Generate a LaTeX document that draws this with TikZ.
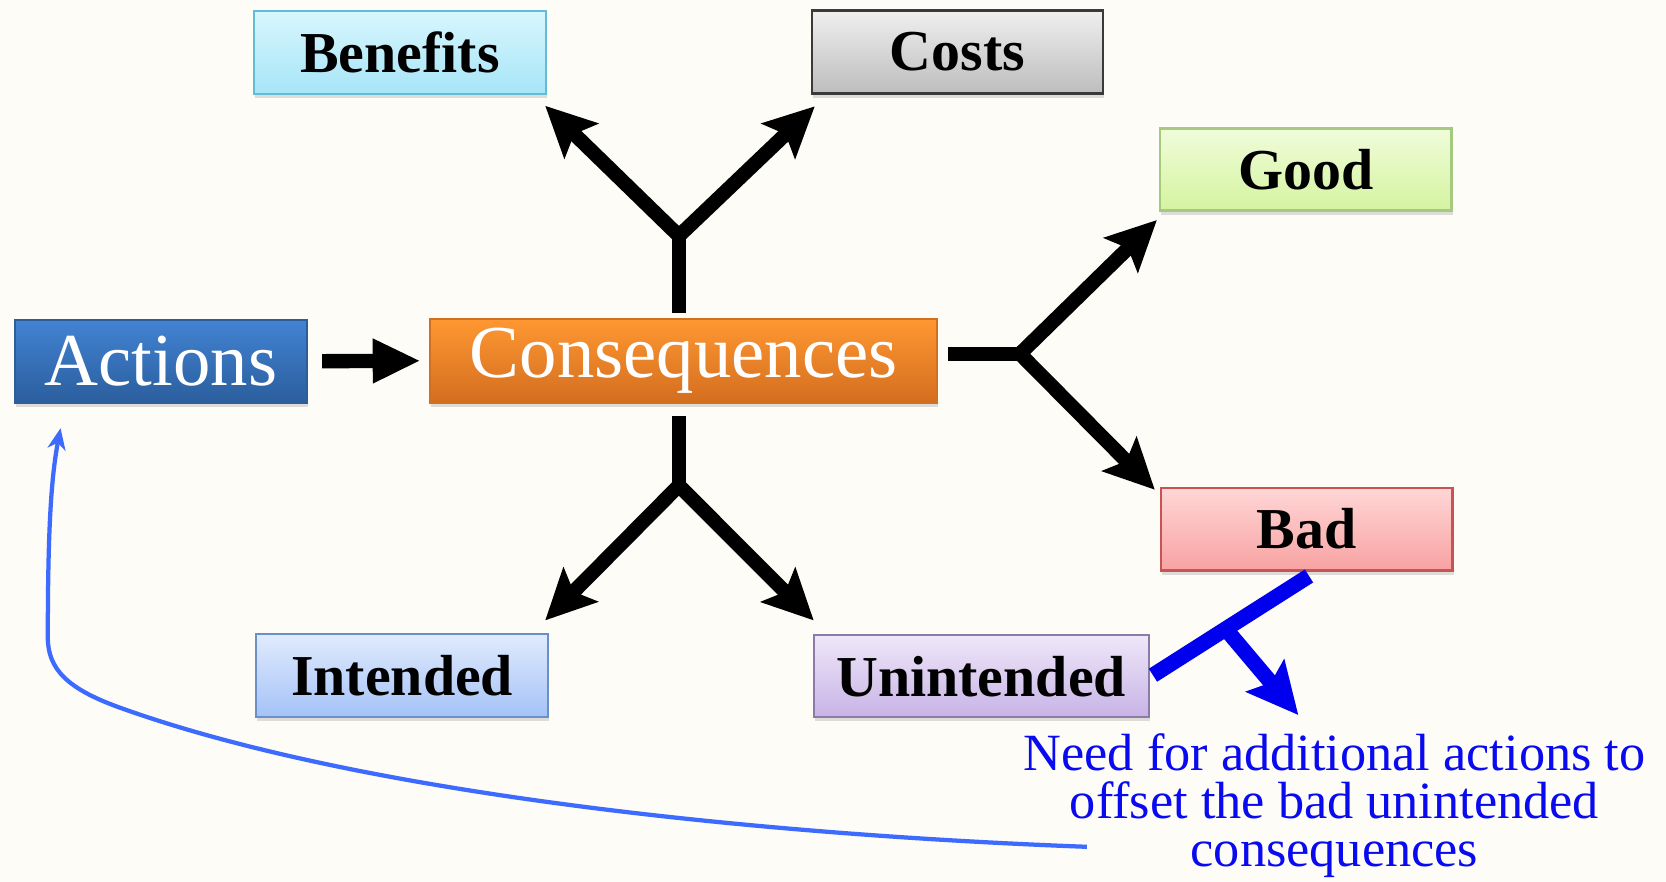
\documentclass[tikz,border=0pt]{standalone}
\usepackage{fontspec}
\setmainfont{Liberation Serif}
\usetikzlibrary{arrows.meta,shadows,calc}
\definecolor{bg}{HTML}{FDFCF6}
\definecolor{bluetext}{HTML}{0A0AF0}
\definecolor{bluecurve}{HTML}{3D6BFF}
\definecolor{blueline}{HTML}{0000EE}
\definecolor{benT}{HTML}{D8F6FD}\definecolor{benB}{HTML}{A6E5F8}\definecolor{benD}{HTML}{62BCD8}
\definecolor{cosT}{HTML}{EFEFEF}\definecolor{cosB}{HTML}{BDBDBD}\definecolor{cosD}{HTML}{3A3A3A}
\definecolor{gooT}{HTML}{F0FCDA}\definecolor{gooB}{HTML}{D4F4A0}\definecolor{gooD}{HTML}{A5C97F}
\definecolor{badT}{HTML}{FFD6D6}\definecolor{badB}{HTML}{F8A2A2}\definecolor{badD}{HTML}{C95252}
\definecolor{intT}{HTML}{E0EBFD}\definecolor{intB}{HTML}{A4C2F7}\definecolor{intD}{HTML}{6B8FC7}
\definecolor{uniT}{HTML}{EFE7F9}\definecolor{uniB}{HTML}{C7B3E6}\definecolor{uniD}{HTML}{8C7BA8}
\definecolor{actT}{HTML}{4283D2}\definecolor{actB}{HTML}{2B5E9E}\definecolor{actD}{HTML}{2E5E98}
\definecolor{conT}{HTML}{FF9732}\definecolor{conB}{HTML}{D36E1F}\definecolor{conD}{HTML}{D37020}
\tikzset{
  box/.style={draw, line width=0.6pt, inner sep=0pt, minimum height=0.78cm,
    drop shadow={shadow xshift=0.01cm, shadow yshift=-0.04cm, opacity=0.25}},
  lbl/.style={font=\fontsize{15.5}{18}\selectfont\bfseries, text=black},
  big/.style={font=\fontsize{20}{24}\selectfont, text=white},
  bigtip/.tip={Stealth[length=0.47cm,width=0.45cm,inset=0.09cm]},
  blk/.style={line width=0.135cm, black},
  bluethick/.style={line width=0.145cm, blueline},
}
\begin{document}
\begin{tikzpicture}[x=0.01cm,y=-0.01cm]
\fill[bg] (0,0) rectangle (1568,830);
\useasboundingbox (0,0) rectangle (1568,830);

% boxes
\node[box, lbl, minimum width=2.75cm, top color=benT, bottom color=benB, draw=benD] (ben) at (376.5,49.5) {Benefits};
\node[box, lbl, minimum width=2.74cm, top color=cosT, bottom color=cosB, draw=cosD] (cost) at (901,49) {Costs};
\node[box, lbl, minimum width=2.74cm, minimum height=0.77cm, top color=gooT, bottom color=gooB, draw=gooD] (good) at (1229,159.5) {Good};
\node[box, lbl, minimum width=2.74cm, top color=badT, bottom color=badB, draw=badD] (bad) at (1230,498) {Bad};
\node[box, lbl, minimum width=2.75cm, top color=intT, bottom color=intB, draw=intD] (int) at (378.5,636) {Intended};
\node[box, lbl, minimum width=3.15cm, minimum height=0.77cm, top color=uniT, bottom color=uniB, draw=uniD] (unint) at (923.5,636.5) {Unintended};
\node[box, big, minimum width=2.75cm, top color=actT, bottom color=actB, draw=actD] (act) at (151.5,340) {Actions};
\node[box, big, minimum width=4.77cm, minimum height=0.79cm, top color=conT, bottom color=conB, draw=conD] (cons) at (643.5,339.5) {Consequences};

% Actions -> Consequences
\draw[blk, -{Triangle[length=0.45cm,width=0.39cm]}, shorten <=0.13cm, shorten >=0.08cm] (act.east) -- (cons.west);

% up fork
\coordinate (fu) at (639,222);
\coordinate (fus) at ([yshift=0.04cm]fu |- cons.north);
\draw[blk] (fus) -- (fu);
\draw[blk, line join=miter, bigtip-bigtip] ([shift={(-2,10)}]ben.south east) -- (fu) -- ([shift={(4,11)}]cost.south west);

% right fork
\coordinate (fr) at (960,333);
\coordinate (frs) at (892,333);
\draw[blk] (frs) -- (fr);
\draw[blk, line join=miter, bigtip-bigtip] ([shift={(-2,8)}]good.south west) -- (fr) -- ([shift={(-5,3)}]bad.north west);

% down fork
\coordinate (fd) at (639,457);
\coordinate (fds) at ([yshift=-0.11cm]fd |- cons.south);
\draw[blk] (fds) -- (fd);
\draw[blk, line join=miter, bigtip-bigtip] ([shift={(-4,-12)}]int.north east) -- (fd) -- ([shift={(1,-13)}]unint.north west);

% blue connector
\coordinate (u1) at ([shift={(3,-1)}]unint.east);
\coordinate (b1) at ([shift={(2,4)}]bad.south);
\draw[bluethick] (u1) -- (b1);
\coordinate (bj) at ($(u1)!0.466!(b1)$);
\coordinate (btip) at (1222,673);
\draw[bluethick, -{Stealth[length=0.48cm,width=0.46cm,inset=0.08cm]}] (bj) -- (btip);

% note
\node[font=\fontsize{14}{12.8}\selectfont, text=bluetext, align=center, inner sep=0pt] (note) at (1256,758)
  {Need for additional actions to\\offset the bad unintended\\consequences};

% feedback curve
\coordinate (cstart) at (1023,797);
\coordinate (atip) at (57,403);
\draw[bluecurve, line width=0.04cm, -{Stealth[length=0.2cm,width=0.17cm,inset=0.06cm]}]
  (cstart) .. controls (700,785) and (330,745) .. (110,665)
  .. controls (64,648) and (45,630) .. (45,600)
  .. controls (45,500) and (48,450) .. (atip);
\end{tikzpicture}
\end{document}
